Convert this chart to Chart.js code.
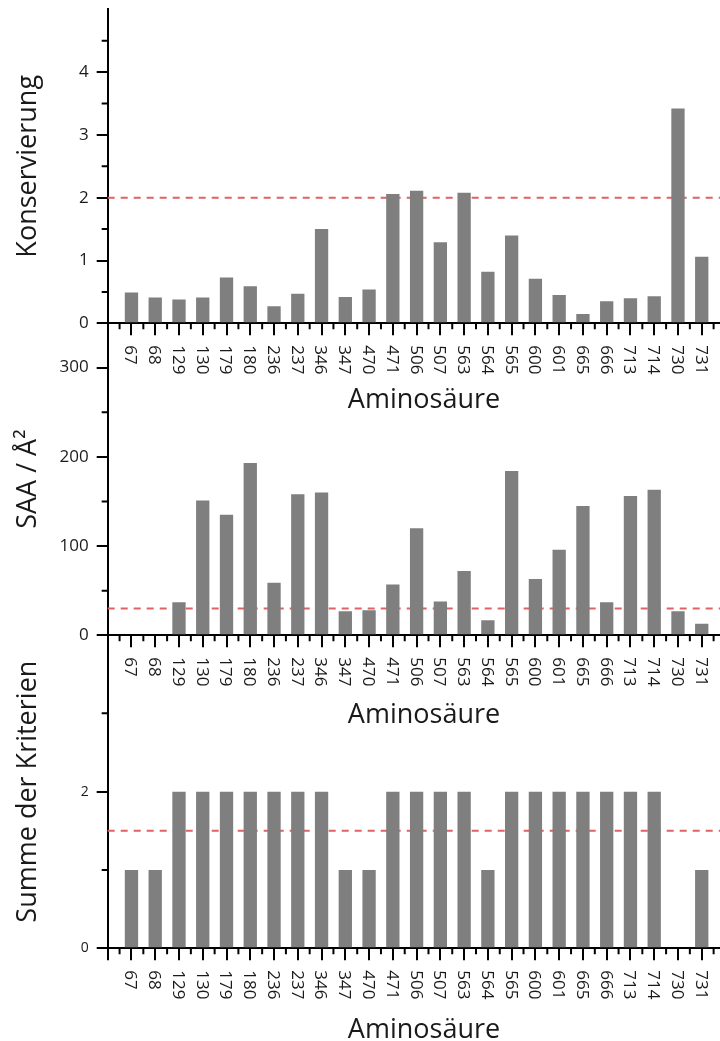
<!DOCTYPE html>
<html>
<head>
<meta charset="utf-8">
<script src="https://cdn.jsdelivr.net/npm/chart.js@4.4.1/dist/chart.umd.min.js"></script>
<style>
  html, body { margin: 0; padding: 0; background: #fff; }
  body { width: 720px; height: 1041px; overflow: hidden; position: relative; }
  canvas { position: absolute; left: 0; }
</style>
</head>
<body>
<canvas id="c1" width="740" height="420" style="top:0px"></canvas>
<canvas id="c2" width="740" height="420" style="top:313px"></canvas>
<canvas id="c3" width="740" height="416" style="top:625px"></canvas>
<script>
const aminosaeuren = ["67", "68", "129", "130", "179", "180", "236", "237", "346", "347",
  "470", "471", "506", "507", "563", "564", "565", "600", "601", "665", "666", "713", "714", "730", "731"];

const konservierung = [0.49, 0.41, 0.38, 0.41, 0.73, 0.59, 0.27, 0.47, 1.50, 0.42,
  0.54, 2.06, 2.11, 1.29, 2.08, 0.82, 1.40, 0.71, 0.45, 0.15, 0.35, 0.40, 0.43, 3.42, 1.06];
const saa = [0, 0, 37, 151, 135, 193, 59, 158, 160, 27,
  28, 57, 120, 38, 72, 17, 184, 63, 96, 145, 37, 156, 163, 27, 13];
const kriterienSumme = [1, 1, 2, 2, 2, 2, 2, 2, 2, 1,
  1, 2, 2, 2, 2, 1, 2, 2, 2, 2, 2, 2, 2, 0, 1];

const konsSchwelle = 2;
const saaSchwelle = 30;
const summeSchwelle = 1.5;

const konsTicks = [0, 1, 2, 3, 4];
const konsMinor = [0.5, 1.5, 2.5, 3.5, 4.5];
const saaTicks = [0, 100, 200, 300];
const saaMinor = [50, 150, 250];
const summeTicks = [0, 2];
const summeMinor = [1, 3];

const FONT = "'Open Sans', 'Noto Sans', sans-serif";
const TEXT = "#1a1a1a";
const LABEL_SIZE = 17;

// leading/trailing blank slots so the first bar sits one step right of the y axis
const labels = ["", ...aminosaeuren, ""];

const axisPlugin = {
  id: "aminoAxis",
  afterDraw(chart, args, opts) {
    const { ctx, chartArea } = chart;
    const x = chart.scales.x;
    const y = chart.scales.y;
    ctx.save();
    ctx.strokeStyle = "#000";
    ctx.lineWidth = 2;
    ctx.beginPath();
    for (let i = 0; i < labels.length - 1; i++) {
      const px = (x.getPixelForValue(i) + x.getPixelForValue(i + 1)) / 2;
      ctx.moveTo(px, chartArea.bottom);
      ctx.lineTo(px, chartArea.bottom + 6);
    }
    opts.minor.forEach((v) => {
      const py = y.getPixelForValue(v);
      ctx.moveTo(chartArea.left - 6, py);
      ctx.lineTo(chartArea.left, py);
    });
    ctx.stroke();

    // x labels read top to bottom (rotated clockwise)
    ctx.fillStyle = TEXT;
    ctx.font = LABEL_SIZE + "px " + FONT;
    ctx.textAlign = "left";
    ctx.textBaseline = "alphabetic";
    labels.forEach((lab, i) => {
      if (!lab) return;
      ctx.save();
      ctx.translate(x.getPixelForValue(i), chartArea.bottom + 22);
      ctx.rotate(Math.PI / 2);
      ctx.fillText(lab, 0, LABEL_SIZE * 0.357);
      ctx.restore();
    });

    ctx.font = "27px " + FONT;
    ctx.textAlign = "center";
    ctx.fillText("Aminosäure", 424, chartArea.bottom + opts.titleOffset);
    ctx.restore();
  },
};

const makePanel = ({ id, values, yMax, ticks, minor, threshold, yTitle, tickSize, plotTop, plotBottom, titleOffset }) => {
  const canvas = document.getElementById(id);
  const xHeight = canvas.height - plotBottom;

  new Chart(canvas, {
    type: "bar",
    data: {
      labels,
      datasets: [
        {
          type: "bar",
          data: [null, ...values, null],
          backgroundColor: "#7f7f7f",
          borderWidth: 0,
          barPercentage: 0.56,
          categoryPercentage: 1,
          order: 1,
        },
        {
          type: "line",
          data: labels.map(() => threshold),
          borderColor: "#e06262",
          borderWidth: 2,
          borderDash: [7, 6],
          pointRadius: 0,
          fill: false,
          order: 2,
        },
      ],
    },
    options: {
      responsive: false,
      animation: false,
      events: [],
      layout: { padding: { top: plotTop, left: 0, right: 14.5, bottom: 0 } },
      plugins: {
        legend: { display: false },
        tooltip: { enabled: false },
        aminoAxis: { minor, titleOffset },
      },
      scales: {
        x: {
          type: "category",
          offset: false,
          grid: { display: true, offset: false, drawOnChartArea: false, drawTicks: true, tickLength: 12, color: "#000", lineWidth: 2 },
          border: { display: true, color: "#000", width: 2 },
          ticks: { display: false, autoSkip: false },
          afterFit: (scale) => {
            scale.height = xHeight;
            scale.paddingLeft = 0;
            scale.paddingRight = 0;
          },
        },
        y: {
          min: 0,
          max: yMax,
          afterBuildTicks: (scale) => {
            scale.ticks = ticks.map((v) => ({ value: v }));
          },
          grid: { display: true, drawOnChartArea: false, drawTicks: true, tickLength: 11, color: "#000", lineWidth: 2 },
          border: { display: true, color: "#000", width: 2 },
          ticks: { font: { family: FONT, size: tickSize }, color: TEXT, padding: 8 },
          title: {
            display: true,
            text: yTitle,
            font: { family: FONT, size: 27, weight: "normal" },
            color: TEXT,
            padding: { top: 12, bottom: 0 },
          },
          afterFit: (scale) => {
            scale.width = 107.7;
            scale.paddingTop = 0;
            scale.paddingBottom = 0;
          },
        },
      },
    },
    plugins: [axisPlugin],
  });
};

makePanel({
  id: "c1", values: konservierung, yMax: 5, ticks: konsTicks, minor: konsMinor,
  threshold: konsSchwelle, yTitle: "Konservierung", tickSize: 17,
  plotTop: 9.3, plotBottom: 323.3, titleOffset: 84.5,
});
makePanel({
  id: "c2", values: saa, yMax: 350, ticks: saaTicks, minor: saaMinor,
  threshold: saaSchwelle, yTitle: "SAA / Å²", tickSize: 17,
  plotTop: 10, plotBottom: 322.3, titleOffset: 87.5,
});
makePanel({
  id: "c3", values: kriterienSumme, yMax: 4, ticks: summeTicks, minor: summeMinor,
  threshold: summeSchwelle, yTitle: "Summe der Kriterien", tickSize: 14,
  plotTop: 10, plotBottom: 323.3, titleOffset: 90,
});
</script>
</body>
</html>
